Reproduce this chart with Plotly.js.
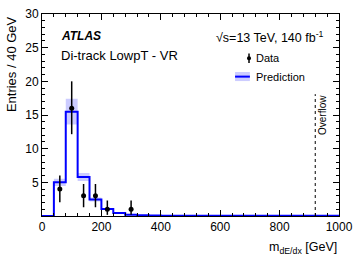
<!DOCTYPE html>
<html><head><meta charset="utf-8">
<script src="https://cdn.plot.ly/plotly-3.0.1.min.js"></script>
<style>html,body{margin:0;padding:0;background:#fff}#chart{width:357px;height:263px}</style>
</head><body><div id="chart"></div>
<script>
// bin edges (GeV), 40 GeV bins
const binEdges = [0,40,80,120,160,200,240,280,320,360,400,440,480,520,560,600,640,680,720,760,800,840,880,920,960,1000];
// prediction per bin
const prediction = [0,5.0,15.5,5.8,2.45,1.05,0.45,0.2,0.1,0.06,0.04,0.03,0.03,0.02,0.02,0.02,0.02,0.02,0.02,0.02,0.02,0.02,0.02,0.02,0.02];
// prediction uncertainty per bin
const predUnc = [0,0.55,1.9,0.6,0.3,0.15,0.1,0.05,0.03,0.02,0.01,0.01,0.01,0.01,0.01,0.01,0.01,0.01,0.01,0.01,0.01,0.01,0.01,0.01,0.01];
// data
const dataX = [60,100,140,180,220,300];
const dataY = [4,16,3,3,1,1];
const dataErrUp = [2.0,4.0,1.75,1.75,1.3,1.3];
const dataErrDown = [1.95,3.85,1.7,1.7,0.83,0.83];
const overflowX = 920;
const xTicks = [0,200,400,600,800,1000];
const yTicks = [5,10,15,20,25,30];

function stepXY(vals){
  const x=[],y=[];
  for(let i=0;i<vals.length;i++){x.push(binEdges[i]);y.push(vals[i]);}
  x.push(binEdges[vals.length]);y.push(vals[vals.length-1]);
  return {x,y};
}
const up = stepXY(prediction.map((v,i)=>v+predUnc[i]));
const dn = stepXY(prediction.map((v,i)=>Math.max(0,v-predUnc[i])));
const cen = stepXY(prediction);

const traces = [
 {x:dn.x,y:dn.y,mode:'lines',line:{shape:'hv',width:0},hoverinfo:'skip',showlegend:false},
 {x:up.x,y:up.y,mode:'lines',line:{shape:'hv',width:0},fill:'tonexty',fillcolor:'rgba(0,0,255,0.2)',hoverinfo:'skip',showlegend:false},
 {x:cen.x,y:cen.y,mode:'lines',line:{shape:'hv',color:'#0000ff',width:2},showlegend:false},
 {x:dataX,y:dataY,mode:'markers',marker:{color:'black',size:5},
  error_y:{type:'data',symmetric:false,array:dataErrUp,arrayminus:dataErrDown,color:'black',thickness:1.5,width:0},showlegend:false},
 {x:[overflowX,overflowX],y:[0,18.1],mode:'lines',line:{color:'black',width:1,dash:'dot'},showlegend:false,hoverinfo:'skip'}
];

const F = 'Liberation Sans, Arial, Helvetica, sans-serif';
const axisCommon = {showgrid:false,zeroline:false,showline:true,linecolor:'black',linewidth:1,mirror:'allticks',
  ticks:'inside',ticklen:6,tickcolor:'black',tickwidth:1,tickfont:{family:F,size:12,color:'black'}};
const layout = {
  width:357,height:263,margin:{l:42,r:18,t:14,b:47},paper_bgcolor:'white',plot_bgcolor:'white',showlegend:false,
  xaxis:Object.assign({},axisCommon,{range:[0,1000],tickvals:xTicks,ticktext:xTicks.map(String),
     minor:{dtick:40,tick0:0,ticks:'inside',ticklen:3,tickcolor:'black'}}),
  yaxis:Object.assign({},axisCommon,{range:[0,30],tickvals:yTicks,ticktext:yTicks.map(String),
     minor:{dtick:1,tick0:0,ticks:'inside',ticklen:3,tickcolor:'black'}}),
  annotations:[
    {xref:'paper',yref:'paper',x:-0.104,y:1,yanchor:'top',xanchor:'center',textangle:-90,showarrow:false,
     text:'Entries / 40 GeV',font:{family:F,size:13,color:'black'}},
    {xref:'paper',yref:'paper',x:1,y:0,xanchor:'right',yanchor:'top',yshift:-22,showarrow:false,
     text:'m<sub>dE/dx</sub> [GeV]',font:{family:F,size:12.5,color:'black'}},
    {xref:'paper',yref:'paper',x:0.058,y:0.89,xanchor:'left',yanchor:'middle',showarrow:false,
     text:'<b><i>ATLAS</i></b>',font:{family:F,size:12,color:'black'}},
    {xref:'paper',yref:'paper',x:0.058,y:0.797,xanchor:'left',yanchor:'middle',showarrow:false,
     text:'Di-track LowpT - VR',font:{family:F,size:13,color:'black'}},
    {xref:'paper',yref:'paper',x:0.578,y:0.886,xanchor:'left',yanchor:'middle',showarrow:false,
     text:'\u221As=13 TeV, 140 fb<sup>-1</sup>',font:{family:F,size:12.5,color:'black'}},
    {xref:'paper',yref:'paper',x:0.713,y:0.782,xanchor:'left',yanchor:'middle',showarrow:false,
     text:'Data',font:{family:F,size:11,color:'black'}},
    {xref:'paper',yref:'paper',x:0.713,y:0.688,xanchor:'left',yanchor:'middle',showarrow:false,
     text:'Prediction',font:{family:F,size:11,color:'black'}},
    {xref:'x',yref:'paper',x:overflowX,xshift:8,y:0.61,yanchor:'top',xanchor:'center',textangle:-90,showarrow:false,
     text:'Overflow',font:{family:F,size:10,color:'black'}}
  ],
  shapes:[
    // legend: data symbol
    {type:'line',xref:'paper',yref:'paper',x0:0.697,x1:0.697,y0:0.757,y1:0.805,line:{color:'black',width:1.5}},
    {type:'circle',xref:'paper',yref:'paper',x0:0.690,x1:0.704,y0:0.771,y1:0.791,fillcolor:'black',line:{color:'black',width:0}},
    // legend: prediction
    {type:'rect',xref:'paper',yref:'paper',x0:0.65,x1:0.70,y0:0.668,y1:0.713,fillcolor:'rgba(0,0,255,0.2)',line:{width:0}},
    {type:'line',xref:'paper',yref:'paper',x0:0.65,x1:0.70,y0:0.69,y1:0.69,line:{color:'#0000ff',width:2}}
  ]
};
Plotly.newPlot('chart',traces,layout,{staticPlot:true,displayModeBar:false});
</script></body></html>
